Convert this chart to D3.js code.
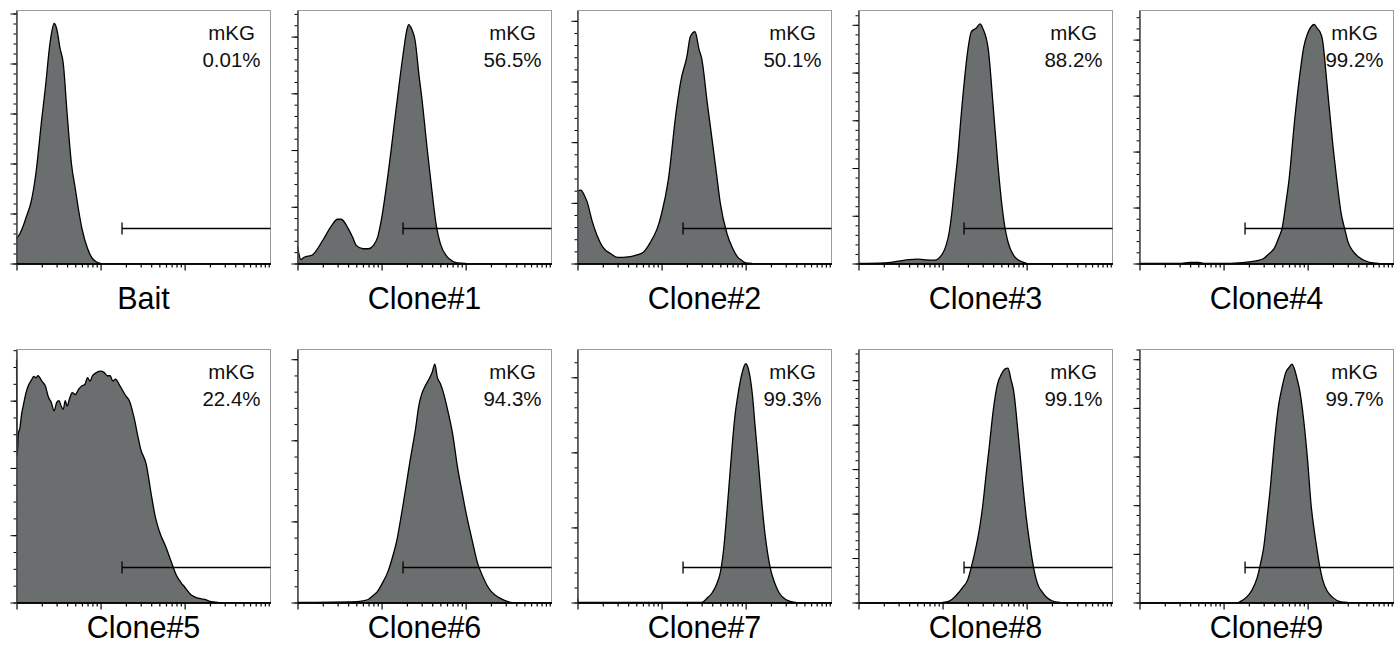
<!DOCTYPE html>
<html>
<head>
<meta charset="utf-8">
<script src="https://cdn.jsdelivr.net/npm/d3@7"></script>
<style>
  body { margin: 0; background: #fff; }
  svg { display: block; font-family: "Liberation Sans", Arial, Helvetica, sans-serif; }
</style>
</head>
<body>
<script>
// samples: [fluorescence intensity, count]
const bait = [[100,50],[110,60],[120,75],[130,92],[150,125],[170,180],[200,290],[220,350],[250,440],[280,480],[300,470],[330,430],[360,400],[400,300],[450,200],[500,150],[550,105],[600,70],[700,30],[800,10],[900,3],[1000,0]];
const clone1 = [[100,30],[110,7],[120,11],[150,15],[200,41],[250,65],[300,78],[330,78],[400,62],[450,47],[500,32],[600,26],[700,26],[800,32],[900,47],[1000,79],[1200,160],[1500,276],[1800,368],[2000,412],[2100,421],[2300,412],[2500,394],[2800,329],[3000,294],[3500,200],[4000,124],[4500,65],[5000,35],[6000,12],[7000,4],[8000,1],[10000,0]];
const clone2 = [[100,120],[110,121],[120,113],[130,102],[150,69],[170,47],[200,27],[250,16],[300,10],[400,11],[500,14],[600,18],[700,30],[800,44],[900,60],[1000,82],[1200,137],[1500,253],[1700,302],[2000,341],[2200,374],[2500,382],[2800,352],[3000,338],[3500,264],[4000,203],[4500,148],[5000,99],[6000,49],[7000,25],[8000,11],[9000,5],[10000,1],[12000,0]];
const clone3 = [[100,0],[200,1],[300,5],[400,8],[500,9],[600,8],[800,7],[1000,21],[1100,38],[1200,66],[1300,112],[1400,168],[1500,217],[1700,329],[2000,448],[2200,486],[2500,493],[2800,502],[3000,493],[3500,448],[4000,329],[4500,217],[5000,133],[5500,77],[6000,45],[7000,17],[8000,7],[9000,3],[10000,0]];
const clone4 = [[100,0],[300,0],[400,2],[500,2],[600,0],[1000,0],[1500,1],[2000,3],[2500,5],[3000,9],[3500,18],[4000,27],[4500,45],[5000,65],[5500,107],[6000,149],[7000,256],[8000,333],[9000,387],[10000,411],[11000,423],[12000,427],[13000,420],[14000,414],[15000,400],[17000,320],[20000,210],[22000,155],[25000,90],[28000,58],[30000,40],[35000,21],[40000,12],[50000,4],[60000,1],[70000,0]];
const clone5 = [[100,361],[102,218],[105,250],[110,260],[115,280],[120,292],[130,312],[140,324],[150,330],[160,336],[170,334],[180,337],[190,334],[200,329],[220,322],[240,305],[260,297],[280,285],[300,297],[320,300],[340,292],[360,287],[380,300],[400,292],[430,304],[460,312],[500,309],[550,317],[600,322],[650,324],[700,334],[750,329],[800,337],[900,342],[1000,344],[1100,342],[1200,337],[1300,337],[1400,329],[1500,332],[1700,322],[2000,307],[2200,300],[2500,275],[2800,245],[3000,228],[3500,205],[4000,161],[4500,126],[5000,106],[6000,82],[7000,59],[8000,40],[9000,30],[10000,23],[12000,11],[15000,6],[18000,4],[20000,1.5],[25000,0]];
const clone6 = [[100,0],[500,1],[600,2],[700,4],[800,9],[900,14],[1000,22],[1200,39],[1400,62],[1500,74],[1700,105],[2000,150],[2200,177],[2500,210],[2800,245],[3000,257],[3300,267],[3600,274],[4000,284],[4300,294],[4600,278],[5000,270],[5500,257],[6000,241],[7000,208],[8000,167],[9000,138],[10000,113],[12000,76],[14000,47],[15000,39],[18000,21],[20000,14],[25000,6],[30000,2],[35000,0]];
const clone7 = [[100,5],[103,0],[3000,0],[3500,6],[4000,13],[4500,24],[5000,40],[5500,73],[6000,122],[6500,171],[7000,216],[7500,251],[8000,273],[9000,304],[10000,318],[11000,307],[12000,278],[13000,233],[14000,193],[15000,153],[17000,91],[20000,42],[22000,27],[25000,13],[30000,4],[35000,1],[40000,0]];
const clone8 = [[1000,0],[1200,3],[1400,13],[1500,19],[1700,32],[2000,52],[2200,80],[2500,125],[2800,176],[3000,217],[3300,289],[3600,352],[4000,431],[4500,491],[5000,513],[5500,525],[6000,527],[6500,502],[7000,476],[8000,371],[9000,266],[10000,184],[11000,127],[12000,82],[13000,52],[14000,35],[15000,26],[17000,13],[20000,4],[25000,0]];
const clone9 = [[1500,0],[1700,5],[2000,16],[2200,27],[2500,50],[2800,86],[3000,113],[3300,175],[3600,236],[4000,325],[4500,404],[5000,445],[5500,473],[6000,483],[6500,490],[7000,479],[7500,459],[8000,438],[9000,373],[10000,291],[11000,200],[12000,147],[13000,106],[14000,72],[15000,48],[17000,24],[20000,10],[25000,1],[30000,0]];

const names = ['Bait','Clone#1','Clone#2','Clone#3','Clone#4','Clone#5','Clone#6','Clone#7','Clone#8','Clone#9'];
const pcts  = ['0.01%','56.5%','50.1%','88.2%','99.2%','22.4%','94.3%','99.3%','99.1%','99.7%'];
const series = [bait,clone1,clone2,clone3,clone4,clone5,clone6,clone7,clone8,clone9];
const yMax   = [506,446,417,530,452,376,312,337,569,520];   // count at top of frame
const yMinor = [20,20,20,20,20,25,20,20,20,20];
const yMajor = 100;
const gateLabel = 'mKG';
const gateFrom = 1800;
const xDomain = [100, 105000];
const xMajor = [1e2, 1e3, 1e4];

const width = 1400, height = 645;
const W = 254, H = 253;
const colX = [16, 297, 577, 858, 1139];
const rowY = [10, 349];
const labelY = [308, 637];
const gateOff = 35;

const svg = d3.select('body').append('svg')
  .attr('width', width).attr('height', height);

const x = d3.scaleLog().domain(xDomain).range([0, W]);
const xMinor = [];
for (const d of xMajor) for (let k = 2; k < 10; ++k) xMinor.push(d*k);
xMinor.push(1e5);

series.forEach((data, i) => {
  const r = Math.floor(i/5), c = i%5;
  const g = svg.append('g')
    .attr('transform', `translate(${colX[c]+0.5},${rowY[r]+0.5})`);
  const y = d3.scaleLinear().domain([0, yMax[i]]).range([H, 0]);

  g.append('clipPath').attr('id', 'clip'+i)
    .append('rect').attr('x', -1).attr('width', W+1).attr('height', H);

  // frame
  g.append('rect')
    .attr('width', W).attr('height', H)
    .attr('fill', 'none').attr('stroke', '#9c9c9c');

  const area = d3.area()
    .x(d => x(d[0])).y0(H).y1(d => y(d[1]))
    .curve(d3.curveMonotoneX);
  const line = area.lineY1();

  const hg = g.append('g').attr('clip-path', `url(#clip${i})`);
  hg.append('path').datum(data)
    .attr('d', area).attr('fill', '#6b6e6e');
  hg.append('path').datum(data)
    .attr('d', line).attr('fill', 'none')
    .attr('stroke', '#000').attr('stroke-width', 1.3)
    .attr('stroke-linejoin', 'round');

  // axes
  const ax = g.append('g').attr('transform', `translate(0,${H})`);
  ax.append('g').call(d3.axisBottom(x).tickValues(xMinor)
    .tickSize(4).tickSizeOuter(0).tickFormat(''));
  ax.append('g').call(d3.axisBottom(x).tickValues(xMajor)
    .tickSize(7).tickSizeOuter(0).tickFormat(''));
  ax.selectAll('.domain').attr('stroke-width', 1.5);
  ax.selectAll('.tick line').attr('stroke-width', 1.2);

  const ay = g.append('g');
  ay.append('g').call(d3.axisLeft(y)
    .tickValues(d3.range(0, yMax[i] + 0.01, yMinor[i]))
    .tickSize(3).tickSizeOuter(0).tickFormat(''));
  ay.append('g').call(d3.axisLeft(y)
    .tickValues(d3.range(0, yMax[i] + 0.01, yMajor))
    .tickSize(6).tickSizeOuter(0).tickFormat(''));
  ay.selectAll('.domain').attr('stroke', '#444');
  ax.raise();

  // gate
  const gy = H - gateOff;
  g.append('line')
    .attr('x1', x(gateFrom)).attr('x2', W)
    .attr('y1', gy).attr('y2', gy)
    .attr('stroke', '#000').attr('stroke-width', 1.3);
  g.append('line')
    .attr('x1', x(gateFrom)).attr('x2', x(gateFrom))
    .attr('y1', gy - 6).attr('y2', gy + 6)
    .attr('stroke', '#000').attr('stroke-width', 1.3);

  // gate label
  const t = g.append('text')
    .attr('text-anchor', 'middle').attr('font-size', 20.5).attr('fill', '#111');
  t.append('tspan').attr('x', W - 39).attr('y', 29).text(gateLabel);
  t.append('tspan').attr('x', W - 39).attr('y', 56).text(pcts[i]);

  // sample name
  g.append('text')
    .attr('x', W/2).attr('y', labelY[r] - rowY[r])
    .attr('text-anchor', 'middle').attr('font-size', 30.5).attr('fill', '#000')
    .text(names[i]);
});
</script>
</body>
</html>
